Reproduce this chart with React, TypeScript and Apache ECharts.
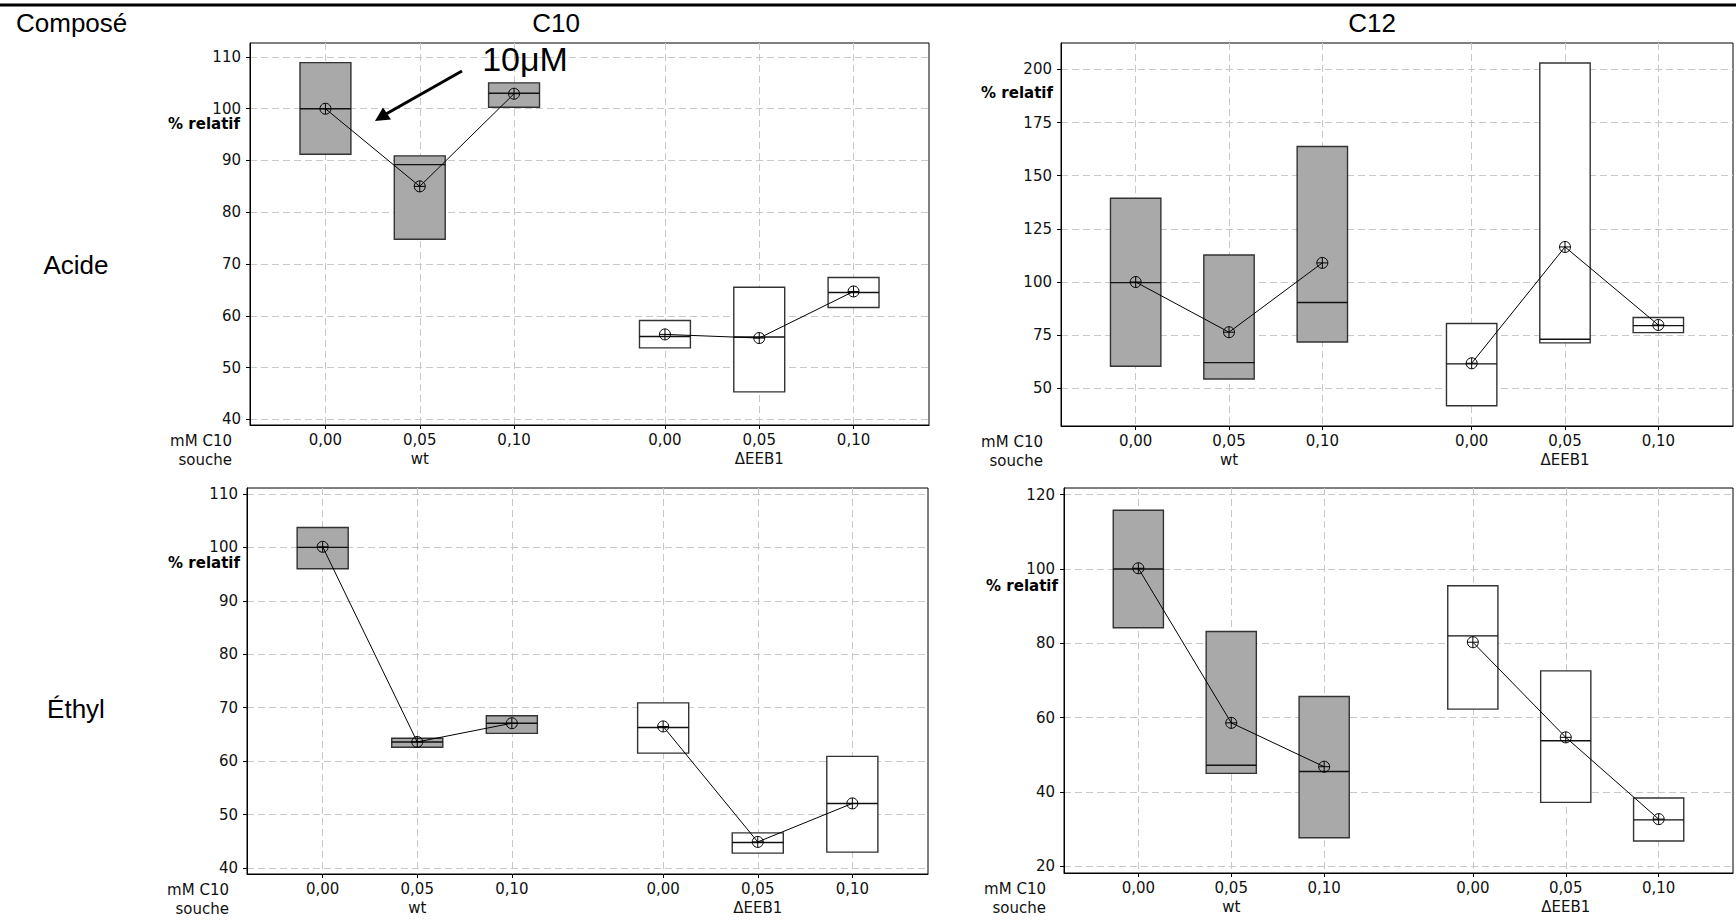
import React, { useEffect, useRef } from "react";
import * as echarts from "echarts";

// Dose levels and strains shown on every x axis
const doses = ["0,00", "0,05", "0,10"];
const strains = ["wt", "ΔEEB1"];
// Position of each dose/strain cell along the x axis (gap between strains)
const xPos = [0, 1, 2, 3.6, 4.6, 5.6];

// Acide / C10
const acideC10Q1 = [91.2, 74.8, 100.3, 53.8, 45.3, 61.6];
const acideC10Median = [100.0, 89.2, 103.0, 56.0, 55.9, 64.5];
const acideC10Q3 = [108.9, 90.9, 105.0, 59.1, 65.5, 67.4];
const acideC10Mean = [100.0, 85.0, 102.9, 56.4, 55.7, 64.7];

// Acide / C12
const acideC12Q1 = [60.4, 54.4, 71.8, 41.8, 71.4, 76.2];
const acideC12Median = [99.7, 62.1, 90.4, 61.5, 73.1, 79.5];
const acideC12Q3 = [139.4, 112.7, 163.7, 80.5, 203.0, 83.3];
const acideC12Mean = [100.0, 76.4, 109.0, 61.8, 116.5, 79.8];

// Éthyl / C10
const ethylC10Q1 = [96.0, 62.6, 65.2, 61.5, 42.8, 43.0];
const ethylC10Median = [100.0, 63.6, 67.1, 66.3, 44.8, 52.1];
const ethylC10Q3 = [103.7, 64.3, 68.5, 70.9, 46.6, 60.9];
const ethylC10Mean = [100.1, 63.6, 67.1, 66.5, 44.9, 52.1];

// Éthyl / C12
const ethylC12Q1 = [84.2, 45.0, 27.7, 62.3, 37.2, 26.8];
const ethylC12Median = [100.0, 47.2, 45.5, 82.0, 53.8, 32.5];
const ethylC12Q3 = [115.8, 83.2, 65.7, 95.5, 72.6, 38.4];
const ethylC12Mean = [100.2, 58.6, 46.8, 80.3, 54.7, 32.7];

// Y tick labels per panel
const yTicksAcideC10 = [40, 50, 60, 70, 80, 90, 100, 110];
const yTicksAcideC12 = [50, 75, 100, 125, 150, 175, 200];
const yTicksEthylC10 = [40, 50, 60, 70, 80, 90, 100, 110];
const yTicksEthylC12 = [20, 40, 60, 80, 100, 120];

const TICK_FONT = "'DejaVu Sans', Verdana, sans-serif";
const TITLE_FONT = "'Liberation Sans', Arial, sans-serif";
const BOX_WIDTH = 0.54; // in x-axis units

type Panel = {
  grid: { left: number; top: number; width: number; height: number };
  yMin: number;
  yMax: number;
  yTicks: number[];
  q1: number[];
  median: number[];
  q3: number[];
  mean: number[];
  ylabel: { right: number; y: number };
};

const panels: Panel[] = [
  {
    grid: { left: 250, top: 43, width: 679, height: 382 },
    yMin: 38.9, yMax: 112.7, yTicks: yTicksAcideC10,
    q1: acideC10Q1, median: acideC10Median, q3: acideC10Q3, mean: acideC10Mean,
    ylabel: { right: 240, y: 124 },
  },
  {
    grid: { left: 1061, top: 43, width: 672, height: 383 },
    yMin: 32.3, yMax: 212.4, yTicks: yTicksAcideC12,
    q1: acideC12Q1, median: acideC12Median, q3: acideC12Q3, mean: acideC12Mean,
    ylabel: { right: 1053, y: 92.5 },
  },
  {
    grid: { left: 247, top: 488, width: 681, height: 386 },
    yMin: 38.9, yMax: 111.1, yTicks: yTicksEthylC10,
    q1: ethylC10Q1, median: ethylC10Median, q3: ethylC10Q3, mean: ethylC10Mean,
    ylabel: { right: 240, y: 563 },
  },
  {
    grid: { left: 1064, top: 488, width: 669, height: 385 },
    yMin: 18.2, yMax: 121.8, yTicks: yTicksEthylC12,
    q1: ethylC12Q1, median: ethylC12Median, q3: ethylC12Q3, mean: ethylC12Mean,
    ylabel: { right: 1058, y: 585.5 },
  },
];

function xLabel(v: number): string {
  const i = xPos.findIndex((p) => Math.abs(p - v) < 1e-6);
  if (i < 0) return "";
  let s = doses[i % 3];
  if (i % 3 === 1) s += "\n" + strains[Math.floor(i / 3)];
  return s;
}

function renderBox(params: any, api: any) {
  const x = api.value(0);
  const lo = api.value(1);
  const med = api.value(2);
  const hi = api.value(3);
  const filled = api.value(4) === 1;
  const top = api.coord([x, hi]);
  const bot = api.coord([x, lo]);
  const m = api.coord([x, med]);
  const w = api.size([BOX_WIDTH, 0])[0];
  return {
    type: "group",
    children: [
      {
        type: "rect",
        shape: { x: top[0] - w / 2, y: top[1], width: w, height: bot[1] - top[1] },
        style: { fill: filled ? "#a9a9a9" : "#ffffff", stroke: "#333333", lineWidth: 1.4 },
      },
      {
        type: "line",
        shape: { x1: top[0] - w / 2, y1: m[1], x2: top[0] + w / 2, y2: m[1] },
        style: { stroke: "#111111", lineWidth: 1.4 },
      },
    ],
  };
}

function renderMean(params: any, api: any) {
  const c = api.coord([api.value(0), api.value(1)]);
  const r = 5.5;
  return {
    type: "group",
    children: [
      { type: "circle", shape: { cx: c[0], cy: c[1], r }, style: { fill: "none", stroke: "#000", lineWidth: 1 } },
      { type: "line", shape: { x1: c[0] - r, y1: c[1], x2: c[0] + r, y2: c[1] }, style: { stroke: "#000", lineWidth: 1 } },
      { type: "line", shape: { x1: c[0], y1: c[1] - r, x2: c[0], y2: c[1] + r }, style: { stroke: "#000", lineWidth: 1 } },
    ],
  };
}

function buildOption() {
  const grids: any[] = [];
  const xAxes: any[] = [];
  const yAxes: any[] = [];
  const series: any[] = [];
  const graphics: any[] = [];

  const dashed = { type: [7, 4], color: "#c8c8c8", width: 1 };

  panels.forEach((p, gi) => {
    grids.push({
      ...p.grid,
      show: true,
      borderColor: "#000",
      borderWidth: 1,
      backgroundColor: "#fff",
      containLabel: false,
    });
    xAxes.push({
      type: "value",
      gridIndex: gi,
      min: -0.8,
      max: 6.4,
      axisLine: { show: true, onZero: false, lineStyle: { color: "#000", width: 1 } },
      axisTick: { show: true, customValues: xPos, length: 4, lineStyle: { color: "#000" } },
      axisLabel: {
        customValues: xPos,
        formatter: xLabel,
        color: "#111",
        fontSize: 15,
        fontFamily: TICK_FONT,
        lineHeight: 19,
        margin: 5,
      },
      splitLine: { show: true, lineStyle: dashed },
    });
    yAxes.push({
      type: "value",
      gridIndex: gi,
      min: p.yMin,
      max: p.yMax,
      axisLine: { show: true, onZero: false, lineStyle: { color: "#000", width: 1 } },
      axisTick: { show: true, customValues: p.yTicks, length: 4, lineStyle: { color: "#000" } },
      axisLabel: {
        customValues: p.yTicks,
        color: "#111",
        fontSize: 15,
        fontFamily: TICK_FONT,
        lineHeight: 12,
        margin: 9,
      },
      splitLine: { show: true, lineStyle: dashed },
    });

    const boxData = xPos.map((x, i) => [x, p.q1[i], p.median[i], p.q3[i], i < 3 ? 1 : 0]);
    series.push({
      type: "custom",
      xAxisIndex: gi,
      yAxisIndex: gi,
      renderItem: renderBox,
      encode: { x: 0, y: [1, 2, 3] },
      data: boxData,
      z: 2,
    });
    // Means connected within each strain
    [0, 1].forEach((s) => {
      const idx = [s * 3, s * 3 + 1, s * 3 + 2];
      series.push({
        type: "line",
        xAxisIndex: gi,
        yAxisIndex: gi,
        symbol: "none",
        lineStyle: { color: "#000", width: 1 },
        data: idx.map((i) => [xPos[i], p.mean[i]]),
        z: 3,
      });
    });
    series.push({
      type: "custom",
      xAxisIndex: gi,
      yAxisIndex: gi,
      renderItem: renderMean,
      encode: { x: 0, y: 1 },
      data: xPos.map((x, i) => [x, p.mean[i]]),
      z: 4,
    });

    // Axis captions
    const g = p.grid;
    const bottom = g.top + g.height;
    graphics.push(
      {
        type: "text",
        x: g.left - 18,
        y: bottom + 16,
        style: { text: "mM C10", fill: "#111", font: `15px ${TICK_FONT}`, textAlign: "right", textVerticalAlign: "middle" },
      },
      {
        type: "text",
        x: g.left - 18,
        y: bottom + 35,
        style: { text: "souche", fill: "#111", font: `15px ${TICK_FONT}`, textAlign: "right", textVerticalAlign: "middle" },
      },
      {
        type: "text",
        x: p.ylabel.right,
        y: p.ylabel.y,
        style: {
          text: "% relatif",
          fill: "#000",
          font: `bold 15px ${TICK_FONT}`,
          lineHeight: 12,
          textAlign: "right",
          textVerticalAlign: "middle",
        },
      }
    );
  });

  // Headers and row labels
  graphics.push(
    { type: "line", shape: { x1: 0, y1: 5, x2: 1736, y2: 5 }, style: { stroke: "#000", lineWidth: 3 } },
    { type: "text", x: 16, y: 23, style: { text: "Composé", fill: "#000", font: `26px ${TITLE_FONT}`, textAlign: "left", textVerticalAlign: "middle" } },
    { type: "text", x: 556, y: 23, style: { text: "C10", fill: "#000", font: `26px ${TITLE_FONT}`, textAlign: "center", textVerticalAlign: "middle" } },
    { type: "text", x: 1372, y: 23, style: { text: "C12", fill: "#000", font: `26px ${TITLE_FONT}`, textAlign: "center", textVerticalAlign: "middle" } },
    { type: "text", x: 76, y: 265, style: { text: "Acide", fill: "#000", font: `26px ${TITLE_FONT}`, textAlign: "center", textVerticalAlign: "middle" } },
    { type: "text", x: 76, y: 709, style: { text: "Éthyl", fill: "#000", font: `26px ${TITLE_FONT}`, textAlign: "center", textVerticalAlign: "middle" } },
    // 10µM annotation with arrow
    { type: "text", x: 525, y: 59, z: 10, style: { text: "10μM", fill: "#000", font: `34px ${TITLE_FONT}`, textAlign: "center", textVerticalAlign: "middle" } },
    { type: "line", z: 10, shape: { x1: 462, y1: 71, x2: 386, y2: 114 }, style: { stroke: "#000", lineWidth: 3 } },
    { type: "polygon", z: 10, shape: { points: [[375, 121], [383, 107.5], [391, 119.5]] }, style: { fill: "#000" } }
  );

  return {
    animation: false,
    backgroundColor: "#fff",
    grid: grids,
    xAxis: xAxes,
    yAxis: yAxes,
    series,
    graphic: graphics,
  };
}

export default function App() {
  const ref = useRef<HTMLDivElement>(null);
  useEffect(() => {
    if (!ref.current) return;
    const chart = echarts.init(ref.current, null, { renderer: "svg" });
    chart.setOption(buildOption() as any);
    return () => chart.dispose();
  }, []);
  return (
    <div
      ref={ref}
      style={{ position: "fixed", left: 0, top: 0, width: 1736, height: 920, background: "#fff" }}
    />
  );
}
